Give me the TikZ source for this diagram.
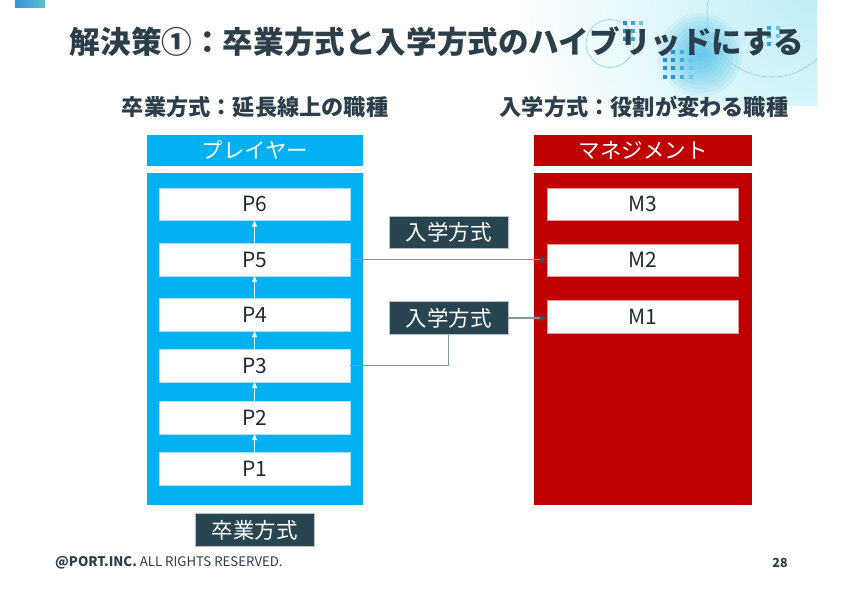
\documentclass[tikz,border=0pt]{standalone}
\usepackage{fontspec}
\setmainfont{Noto Sans CJK JP}
\usetikzlibrary{arrows.meta}
\definecolor{ink}{HTML}{2B3E4A}
\definecolor{boxink}{HTML}{1C2B33}
\definecolor{pblue}{HTML}{00B0F0}
\definecolor{mred}{HTML}{C00000}
\definecolor{darkbox}{HTML}{27444F}
\definecolor{conncol}{HTML}{84959E}
\definecolor{tipcol}{HTML}{3A505B}
\definecolor{dotblue}{HTML}{2A8FD0}
\definecolor{dotcyan}{HTML}{62CDE0}
\definecolor{glow}{HTML}{1DB0E6}
\definecolor{ringcol}{HTML}{8ED3DC}
\definecolor{bgcyan}{HTML}{BCEDF5}
\definecolor{tabA}{HTML}{3A8FD8}
\definecolor{tabB}{HTML}{5CC0D0}
\tikzset{
  whitebox/.style={draw=pblue!35!white, line width=0.5pt, fill=white, minimum width=191pt, minimum height=32.5pt, inner sep=0pt, text=boxink, font=\fontsize{21}{23}\selectfont},
  mbox/.style={whitebox, draw=mred!40!white},
  hdr/.style={minimum height=31pt, inner sep=0pt, text=white, font=\fontsize{21.5}{23}\selectfont},
  darklabel/.style={draw=conncol!60!white, line width=0.6pt, fill=darkbox, minimum width=119pt, minimum height=32.5pt, inner sep=0pt, text=white, font=\fontsize{21.5}{23}\selectfont},
  conn/.style={draw=conncol, line width=1.2pt},
  conntip/.style={-{Triangle[length=7pt,width=6pt,color=tipcol]}},
  uparrow/.style={draw=white, line width=0.7pt, -{Triangle[length=6pt,width=5pt]}},
  subt/.style={text=ink, font=\bfseries\fontsize{22.2}{24}\selectfont},
  dot/.style={minimum size=3.2pt, inner sep=0pt},
}
\begin{document}
\begin{tikzpicture}[x=1pt,y=-1pt]
\useasboundingbox (0,0) rectangle (841,595);
\fill[white] (0,0) rectangle (841,595);
% --- decoration ---
\begin{scope}
  \clip (300,0) rectangle (817,105);
  \shade[inner color=bgcyan, outer color=white] (812,-15) circle (300);
  \foreach \r in {42,38,...,2} {\fill[glow, opacity=0.08] (700,55) circle (\r);}
  \draw[ringcol, line width=0.6pt] (772,12) circle (65);
  \draw[ringcol, line width=0.6pt] (610,43.5) circle (24);
\end{scope}
\foreach \y in {23,31,39} {
  \node[dot, fill=dotblue] (da\y) at (625,\y) {};
  \node[dot, fill=dotblue!60!dotcyan] (db\y) at (633,\y) {};
  \node[dot, fill=dotcyan] (dc\y) at (641,\y) {};
}
\foreach \y in {52,60,68,77} {
  \node[dot, fill=dotblue] (ea\y) at (665,\y) {};
  \node[dot, fill=dotblue] (eb\y) at (673,\y) {};
  \node[dot, fill=dotblue!50!dotcyan] (ec\y) at (682,\y) {};
  \node[dot, fill=dotcyan] (ed\y) at (691,\y) {};
}
\foreach \y in {28,36,44} {
  \node[dot, fill=dotblue!70!dotcyan] (fa\y) at (769,\y) {};
  \node[dot, fill=dotcyan] (fb\y) at (778,\y) {};
}
\shade[left color=tabA, right color=tabB] (15,0) rectangle (45,7);
% --- title ---
\node[text=ink, font=\bfseries\fontsize{30.6}{34}\selectfont, inner sep=0pt] (title) at (437,42) {解決策①：卒業方式と入学方式のハイブリッドにする};
\node[subt, inner sep=0pt] (subl) at (255,107) {卒業方式：延長線上の職種};
\node[subt, inner sep=0pt] (subr) at (644,107) {入学方式：役割が変わる職種};
% --- headers and containers ---
\node[hdr, fill=pblue, minimum width=216pt] (hp) at (255,150.5) {プレイヤー};
\node[hdr, fill=mred, minimum width=218pt] (hm) at (643,150.5) {マネジメント};
\node[fill=pblue, minimum width=216pt, minimum height=332pt, inner sep=0pt] (cp) at (255,339) {};
\node[fill=mred, minimum width=218pt, minimum height=332pt, inner sep=0pt] (cm) at (643,339) {};
% --- P boxes ---
\node[whitebox] (P6) at (254.5,204) {P6};
\node[whitebox] (P5) at (254.5,259.5) {P5};
\node[whitebox] (P4) at (254.5,314.5) {P4};
\node[whitebox] (P3) at (254.5,365.5) {P3};
\node[whitebox] (P2) at (254.5,417.5) {P2};
\node[whitebox] (P1) at (254.5,468.5) {P1};
\draw[uparrow] (P1.north) -- (P2.south);
\draw[uparrow] (P2.north) -- (P3.south);
\draw[uparrow] (P3.north) -- (P4.south);
\draw[uparrow] (P4.north) -- (P5.south);
\draw[uparrow] (P5.north) -- (P6.south);
% --- M boxes ---
\node[mbox] (M3) at (642.5,204) {M3};
\node[mbox] (M2) at (642.5,260) {M2};
\node[mbox] (M1) at (642.5,316.5) {M1};
% --- labels ---
\node[darklabel] (in1) at (448.5,232.5) {入学方式};
\node[darklabel] (in2) at (448.5,318) {入学方式};
\node[darklabel] (sotsu) at (254.5,530) {卒業方式};
% --- connectors ---
\draw[conn, conntip] (P5.east) -- (P5.east -| M2.west);
\draw[conn] (P3.east) -| (in2.south);
\draw[conn, conntip] (in2.east) -- (in2.east -| M1.west);
% --- footer ---
\node[anchor=west, text=ink, font=\fontsize{13.2}{15}\selectfont, inner sep=0pt] (foot) at (55,563) {\textbf{@PORT.INC.} ALL RIGHTS RESERVED.};
\node[text=ink, font=\bfseries\fontsize{12.5}{14}\selectfont, inner sep=0pt] (page) at (780,563) {28};
\end{tikzpicture}
\end{document}
